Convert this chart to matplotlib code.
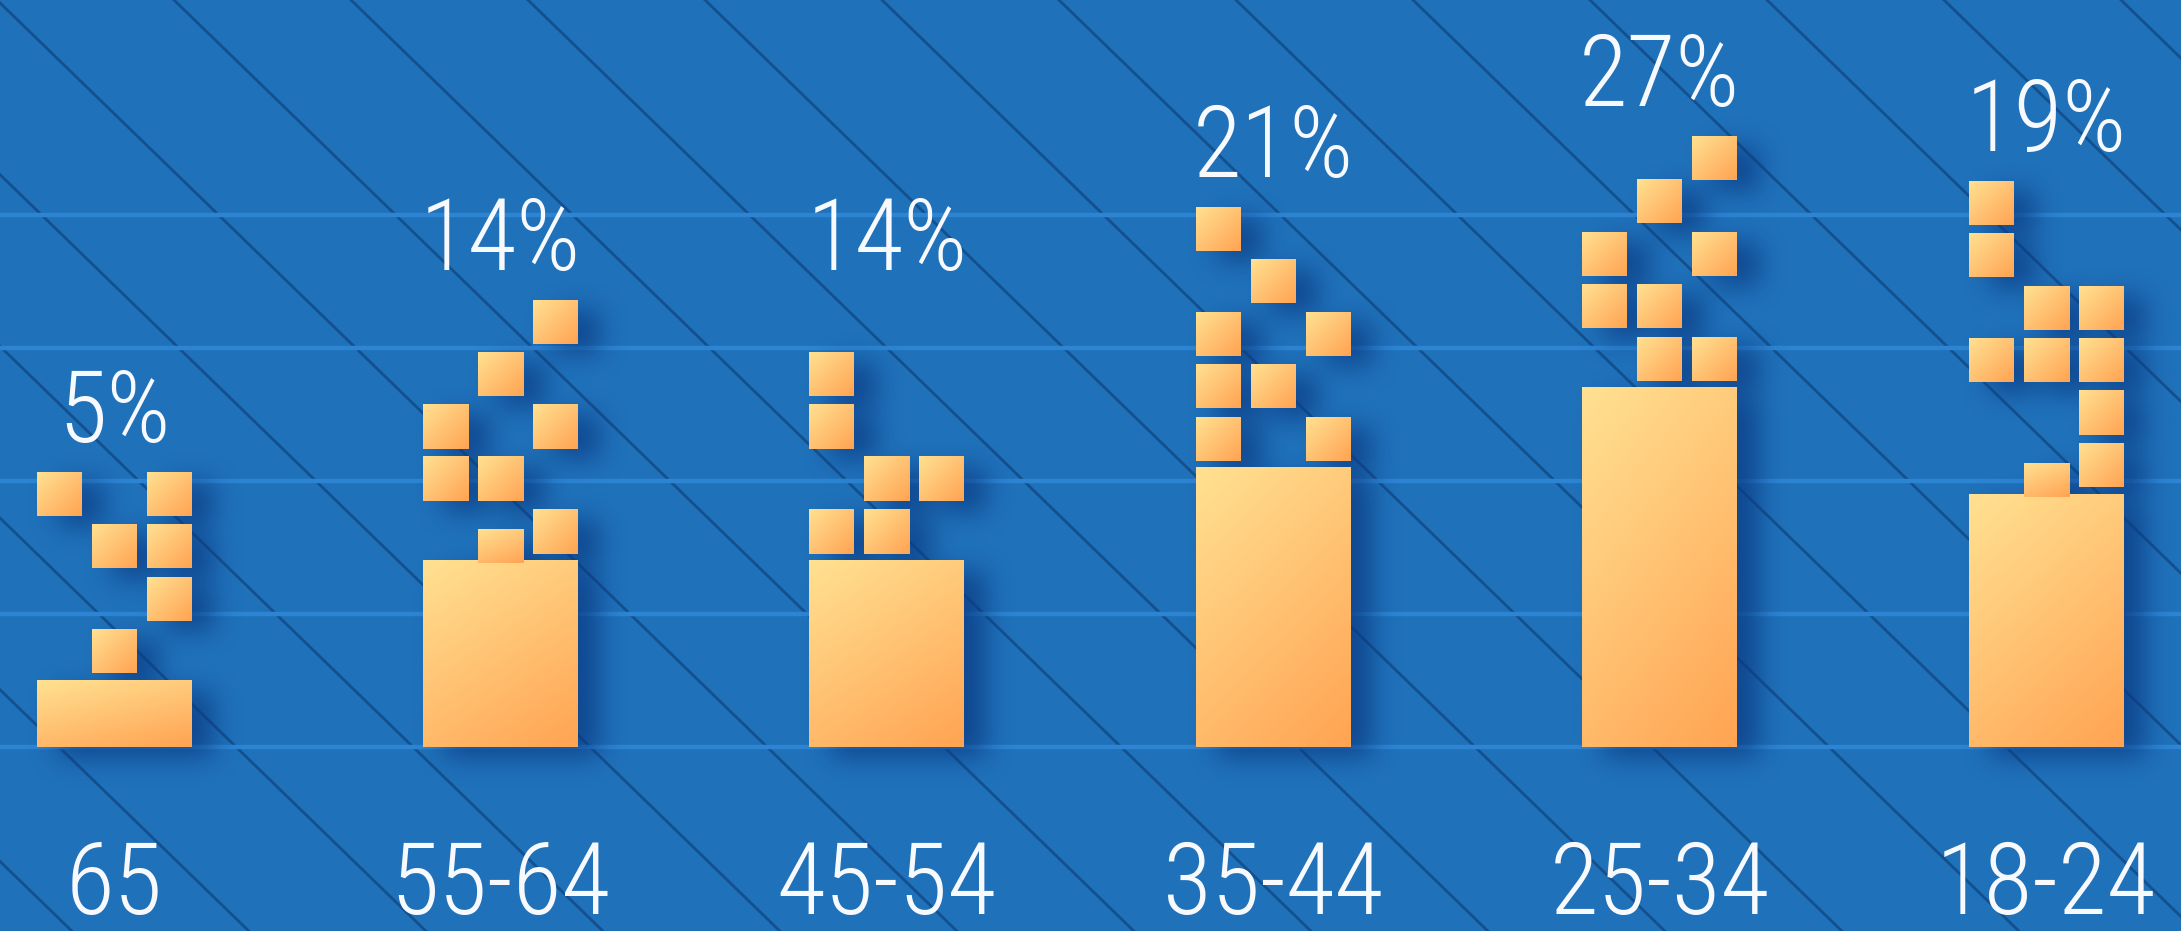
import numpy as np
import matplotlib.pyplot as plt
from matplotlib import font_manager
from matplotlib.colors import LinearSegmentedColormap, to_rgb

groups = ['65', '55-64', '45-54', '35-44', '25-34', '18-24']
shares = [5, 14, 14, 21, 27, 19]
# small blocks floating above each bar, as (column, row) counted from the bar top
blocks = [
    [(1, 1), (2, 2), (1, 3), (2, 3), (0, 4), (2, 4)],
    [(2, 1), (0, 2), (1, 2), (0, 3), (2, 3), (1, 4), (2, 5)],
    [(0, 1), (1, 1), (1, 2), (2, 2), (0, 3), (0, 4)],
    [(0, 1), (2, 1), (0, 2), (1, 2), (0, 3), (2, 3), (1, 4), (0, 5)],
    [(1, 1), (2, 1), (0, 2), (1, 2), (0, 3), (2, 3), (1, 4), (2, 4.82)],
    [(2, 1), (2, 2), (0, 3), (1, 3), (2, 3), (1, 4), (2, 4), (0, 5), (0, 6)],
]
tabs = [False, True, False, False, False, True]

W, H = 2181, 931
X0, PITCH = 114, 386.4   # px: first bar centre, distance between bars
BASE, PPU = 184, 13.3    # px: baseline above bottom edge, px per percent
sx, sy = 1 / PITCH, 1 / PPU

BAR_W = 155 * sx
SQ_W, SQ_H = 45 * sx, 44 * sy
COL_STEP = 55 * sx
ROW_STEP = 52.5 * sy
ROW_GAP = 7 * sy
TAB_H = 31 * sy

bg = '#1f71ba'
orange = LinearSegmentedColormap.from_list('orange', ['#ffe191', '#ffc273', '#ffa452'])

# a narrow, light face suits the labels best; fall back to DejaVu Sans
prefs = ['LiberationSansNarrow-Regular', 'RobotoCondensed-Light', 'NotoSans-CondensedLight',
         'RobotoCondensed-Regular', 'NotoSans-Condensed.', 'DejaVuSansCondensed.',
         'OpenSans-CondensedLight', 'OpenSans_Condensed-Regular']
files = [f.fname for f in font_manager.fontManager.ttflist]
font, fsize = font_manager.FontProperties(family='DejaVu Sans'), 57
for p in prefs:
    hit = [f for f in files if p in f.split('/')[-1]]
    if hit:
        font, fsize = font_manager.FontProperties(fname=hit[0]), 72
        if 'DejaVu' in p:
            fsize = 66
        break

fig = plt.figure(figsize=(W / 100, H / 100), dpi=100)
ax = fig.add_axes([0, 0, 1, 1])
ax.set_facecolor(bg)
ax.set_xlim(-X0 / PITCH, (W - X0) / PITCH)
ax.set_ylim(-BASE / PPU, (H - BASE) / PPU)


def fill(x, y, w, h, tilt):
    gx, gy = np.meshgrid(np.linspace(0, 1, 40), np.linspace(0, 1, 80))
    t = tilt * gx + (1 - tilt) * (1 - gy)
    ax.imshow(t, cmap=orange, vmin=0, vmax=1, extent=[x, x + w, y, y + h],
              origin='lower', aspect='auto', interpolation='bilinear', zorder=3)


shapes = []
tops = []
for i, v in enumerate(shares):
    shapes.append((i - BAR_W / 2, 0, BAR_W, v, 0.35))
    if tabs[i]:
        shapes.append((i - SQ_W / 2, v - 0.2, SQ_W, TAB_H + 0.2, 0.35))
    top = v
    for c, r in blocks[i]:
        bx = i + (c - 1) * COL_STEP - SQ_W / 2
        by = v + ROW_GAP + (r - 1) * ROW_STEP
        shapes.append((bx, by, SQ_W, SQ_H, 0.5))
        top = max(top, by + SQ_H)
    tops.append(top)

# soft drop shadow: rasterise the shapes, blur, shift to the lower right
mask = np.zeros((H, W))
for x, y, w, h, _ in shapes:
    (c0, r0), (c1, r1) = ax.transData.transform([(x, y), (x + w, y + h)])
    mask[int(r0):int(r1), int(c0):int(c1)] = 1


def blur1d(a, r, axis):
    a = np.swapaxes(a, 0, axis)
    p = np.pad(a, ((r + 1, r), (0, 0)))
    c = np.cumsum(p, axis=0)
    return np.swapaxes((c[2 * r + 1:] - c[:-2 * r - 1]) / (2 * r + 1), 0, axis)


soft = mask
for _ in range(3):
    soft = blur1d(blur1d(soft, 12, 0), 12, 1)
soft = np.roll(np.roll(soft, 22, axis=1), -10, axis=0)
rgba = np.zeros((H, W, 4))
rgba[..., :3] = to_rgb('#0a3a82')
rgba[..., 3] = 0.75 * np.clip(soft, 0, 1)
ax.imshow(rgba, extent=[*ax.get_xlim(), *ax.get_ylim()], origin='lower',
          aspect='auto', interpolation='bilinear', zorder=2)

for s in shapes:
    fill(*s)

# diagonal pattern in the background
slope = 0.97
for xs in np.arange(-1596, W + 200, 177):
    ax.plot([xs / W, (xs + H / slope) / W], [1, 0], transform=ax.transAxes,
            color='#14508e', lw=2.0, zorder=0.3)

ax.set_yticks(range(0, 50, 10))
ax.set_axisbelow(True)
ax.grid(axis='y', color='#2c84d2', lw=3.2)
ax.set_xticks([])
ax.tick_params(left=False, labelleft=False)
for sp in ax.spines.values():
    sp.set_visible(False)

for i, (g, v) in enumerate(zip(groups, shares)):
    ly = max(tops[j] for j in range(len(shares)) if shares[j] == v) + 30 * sy
    ax.text(i, ly, f'{v}%', ha='center', va='baseline', color='#f7f9fc',
            fontproperties=font, fontsize=fsize, zorder=5)
    ax.text(i, (17 - BASE) * sy, g, ha='center', va='baseline', color='#f7f9fc',
            fontproperties=font, fontsize=fsize, zorder=5)

ax.set_xlim(-X0 / PITCH, (W - X0) / PITCH)
ax.set_ylim(-BASE / PPU, (H - BASE) / PPU)

fig.savefig('out.png', dpi=100, facecolor=bg)
